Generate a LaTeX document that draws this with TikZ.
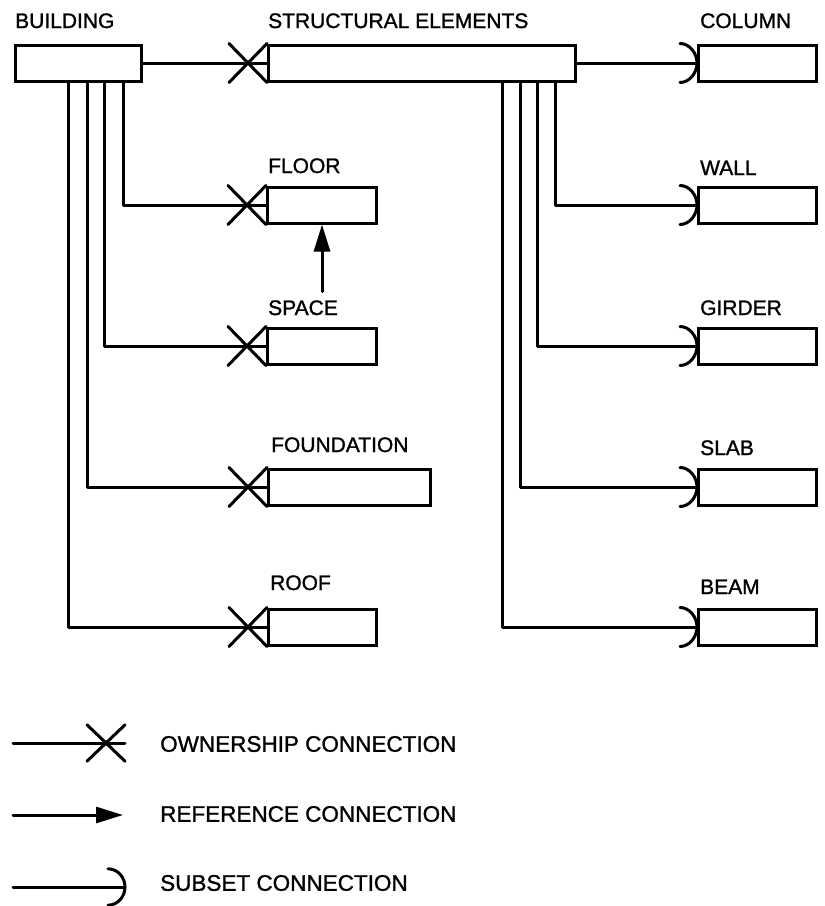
\documentclass[tikz,border=0pt]{standalone}
\usepackage{fontspec}
\setmainfont{Liberation Sans}
\usetikzlibrary{arrows.meta}
\tikzset{
  conn/.style={line width=3pt, line cap=round, line join=round},
  box/.style={draw, line width=3pt, inner sep=0pt, minimum height=36pt, anchor=west},
  stub/.style={inner sep=0pt, minimum height=36pt, minimum width=0pt, anchor=west},
  lbl/.style={font=\fontsize{21}{25}\selectfont\addfontfeature{FakeBold=1.2}, inner sep=0pt, anchor=base west},
  keylbl/.style={font=\fontsize{22.5}{27}\selectfont\addfontfeature{FakeBold=1.2}, inner sep=0pt, anchor=west},
  refarrow/.style={conn, -{Triangle[length=27pt,width=16pt]}}
}
% ownership cross in front of a box
\newcommand{\owncross}[1]{%
  \draw[conn] ([xshift=-38pt]#1.north west) -- (#1.south west);
  \draw[conn] ([xshift=-38pt]#1.south west) -- (#1.north west);}
% subset cup in front of a box
\newcommand{\subcup}[1]{%
  \draw[conn] ([xshift=-17pt]#1.north west) .. controls ([xshift=-7.6pt]#1.north west) and ([yshift=10pt]#1.west) .. (#1.west)
    .. controls ([yshift=-10pt]#1.west) and ([xshift=-7.6pt]#1.south west) .. ([xshift=-17pt]#1.south west);}
\begin{document}
\begin{tikzpicture}[x=1pt,y=-1pt]
  \useasboundingbox (0,0) rectangle (825,906);
  %% boxes
  \node[box, minimum width=126pt] (bldg) at (14,63) {};
  \node[box, minimum width=307pt] (struct) at (267,63) {};
  \node[box, minimum width=118pt] (column) at (697,63) {};
  \node[box, minimum width=109pt] (floor) at (266,205) {};
  \node[box, minimum width=109pt] (space) at (266,346) {};
  \node[box, minimum width=162pt] (found) at (267,487) {};
  \node[box, minimum width=108pt] (roof) at (267,627) {};
  \node[box, minimum width=118pt] (wall) at (697,205) {};
  \node[box, minimum width=118pt] (girder) at (697,346) {};
  \node[box, minimum width=118pt] (slab) at (697,487) {};
  \node[box, minimum width=118pt] (beam) at (697,627) {};
  %% labels
  \node[lbl] (bldglbl) at (15,28) {BUILDING};
  \node[lbl] (structlbl) at (268,28) {STRUCTURAL ELEMENTS};
  \node[lbl] (columnlbl) at (700,28) {COLUMN};
  \node[lbl] (floorlbl) at (268,173) {FLOOR};
  \node[lbl] (spacelbl) at (268,315) {SPACE};
  \node[lbl] (foundlbl) at (271,452) {FOUNDATION};
  \node[lbl] (rooflbl) at (270,590) {ROOF};
  \node[lbl] (walllbl) at (700,175) {WALL};
  \node[lbl] (girderlbl) at (700,315) {GIRDER};
  \node[lbl] (slablbl) at (700,455) {SLAB};
  \node[lbl] (beamlbl) at (700,594) {BEAM};
  %% ownership
  \draw[conn] (bldg.east) -- (struct.west);
  \owncross{struct}
  \draw[conn] ([xshift=109pt]bldg.south west) |- (floor.west);
  \owncross{floor}
  \draw[conn] ([xshift=90pt]bldg.south west) |- (space.west);
  \owncross{space}
  \draw[conn] ([xshift=73pt]bldg.south west) |- (found.west);
  \owncross{found}
  \draw[conn] ([xshift=54pt]bldg.south west) |- (roof.west);
  \owncross{roof}
  %% subsets
  \draw[conn] (struct.east) -- (column.west);
  \subcup{column}
  \draw[conn] ([xshift=288pt]struct.south west) |- (wall.west);
  \subcup{wall}
  \draw[conn] ([xshift=270pt]struct.south west) |- (girder.west);
  \subcup{girder}
  \draw[conn] ([xshift=253pt]struct.south west) |- (slab.west);
  \subcup{slab}
  \draw[conn] ([xshift=235pt]struct.south west) |- (beam.west);
  \subcup{beam}
  %% reference
  \coordinate (spaceref) at ([yshift=35pt]space.north);
  \draw[refarrow] (spaceref) -- (floor.south);
  %% key
  \coordinate (ownfrom) at (13,743);
  \node[stub] (ownto) at (125,743) {};
  \draw[conn] (ownfrom) -- (ownto.west);
  \owncross{ownto}
  \node[keylbl] (ownlbl) at (160,744) {OWNERSHIP CONNECTION};
  \coordinate (reffrom) at (13,815);
  \coordinate (refto) at (123,815);
  \draw[refarrow] (reffrom) -- (refto);
  \node[keylbl] (reflbl) at (160,814) {REFERENCE CONNECTION};
  \coordinate (subfrom) at (13,887);
  \node[stub] (subto) at (125,887) {};
  \draw[conn] (subfrom) -- (subto.west);
  \subcup{subto}
  \node[keylbl] (sublbl) at (160,883) {SUBSET CONNECTION};
\end{tikzpicture}
\end{document}
